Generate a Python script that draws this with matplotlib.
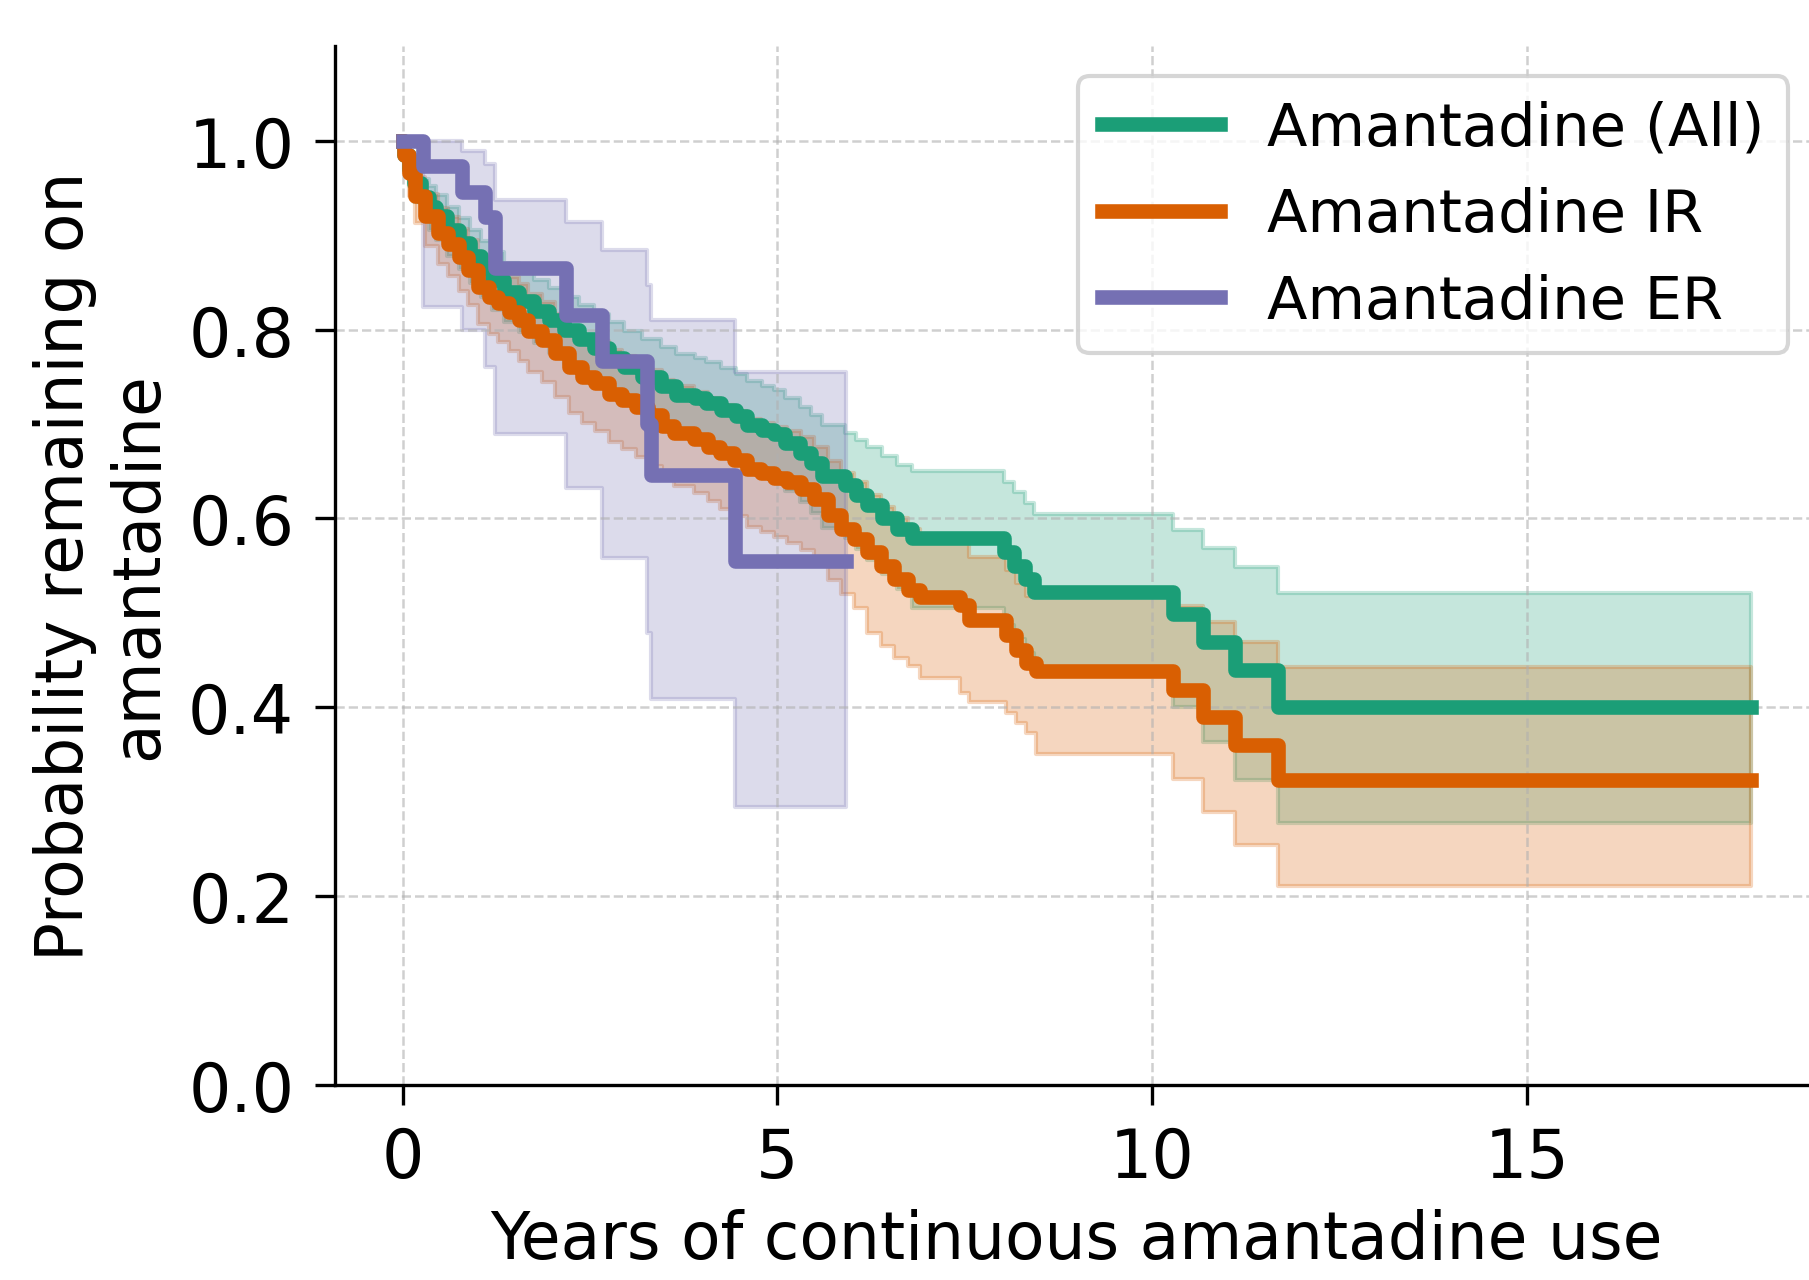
# Kaplan-Meier style curves of remaining on amantadine
import matplotlib.pyplot as plt
import numpy as np

# ---- data ----
t_all = [0.00, 0.02, 0.08, 0.15, 0.25, 0.35, 0.45, 0.60, 0.75, 0.90, 1.05, 1.20, 1.35, 1.55,
         1.75, 1.95, 2.15, 2.35, 2.55, 2.75, 2.95, 3.20, 3.45, 3.65, 3.90, 4.05, 4.25, 4.45,
         4.60, 4.80, 4.95, 5.10, 5.30, 5.45, 5.60, 5.90, 6.05, 6.20, 6.40, 6.60, 6.80, 8.02,
         8.15, 8.30, 8.42, 10.27, 10.68, 11.10, 11.68, 17.98]
s_all = [1.000, 0.985, 0.970, 0.955, 0.940, 0.930, 0.920, 0.905, 0.892, 0.878, 0.865, 0.852,
         0.840, 0.830, 0.820, 0.810, 0.800, 0.790, 0.780, 0.770, 0.760, 0.750, 0.740, 0.731,
         0.727, 0.722, 0.715, 0.708, 0.699, 0.694, 0.689, 0.680, 0.669, 0.659, 0.645, 0.635,
         0.625, 0.614, 0.600, 0.589, 0.579, 0.564, 0.550, 0.536, 0.522, 0.499, 0.469, 0.439,
         0.400, 0.400]
hi_all = [1.000, 0.995, 0.985, 0.973, 0.960, 0.952, 0.943, 0.930, 0.918, 0.906, 0.894, 0.882,
          0.871, 0.862, 0.853, 0.844, 0.835, 0.826, 0.817, 0.808, 0.799, 0.790, 0.782, 0.774,
          0.770, 0.766, 0.759, 0.753, 0.745, 0.740, 0.736, 0.728, 0.718, 0.709, 0.699, 0.690,
          0.683, 0.676, 0.666, 0.657, 0.650, 0.639, 0.628, 0.616, 0.605, 0.588, 0.569, 0.548,
          0.521, 0.521]
lo_all = [1.000, 0.970, 0.952, 0.935, 0.918, 0.906, 0.895, 0.878, 0.864, 0.849, 0.835, 0.821,
          0.808, 0.797, 0.786, 0.775, 0.764, 0.753, 0.742, 0.731, 0.720, 0.709, 0.697, 0.687,
          0.682, 0.676, 0.668, 0.660, 0.650, 0.645, 0.639, 0.629, 0.617, 0.606, 0.590, 0.579,
          0.568, 0.556, 0.541, 0.525, 0.505, 0.487, 0.472, 0.457, 0.440, 0.400, 0.363, 0.323,
          0.277, 0.277]

t_ir = [0.00, 0.02, 0.08, 0.17, 0.30, 0.48, 0.61, 0.75, 0.88, 1.01, 1.15, 1.28, 1.42, 1.55,
        1.68, 1.86, 2.04, 2.22, 2.39, 2.57, 2.75, 2.93, 3.11, 3.28, 3.46, 3.62, 3.89, 4.07,
        4.24, 4.42, 4.60, 4.78, 4.96, 5.13, 5.31, 5.49, 5.67, 5.85, 6.02, 6.20, 6.38, 6.56,
        6.74, 6.90, 7.44, 7.55, 8.05, 8.18, 8.32, 8.45, 10.27, 10.68, 11.10, 11.68, 17.98]
s_ir = [1.000, 0.985, 0.966, 0.941, 0.920, 0.902, 0.891, 0.877, 0.863, 0.845, 0.835, 0.828,
        0.819, 0.810, 0.799, 0.789, 0.775, 0.760, 0.750, 0.743, 0.732, 0.725, 0.718, 0.709,
        0.698, 0.690, 0.684, 0.676, 0.669, 0.662, 0.652, 0.648, 0.643, 0.638, 0.631, 0.620,
        0.603, 0.589, 0.578, 0.564, 0.550, 0.536, 0.524, 0.517, 0.508, 0.492, 0.476, 0.461,
        0.447, 0.438, 0.418, 0.389, 0.360, 0.323, 0.323]
hi_ir = [1.000, 0.995, 0.982, 0.962, 0.944, 0.929, 0.919, 0.907, 0.895, 0.879, 0.870, 0.864,
         0.856, 0.848, 0.838, 0.829, 0.817, 0.803, 0.794, 0.788, 0.778, 0.772, 0.765, 0.757,
         0.747, 0.740, 0.734, 0.727, 0.720, 0.714, 0.705, 0.701, 0.697, 0.692, 0.686, 0.676,
         0.661, 0.648, 0.638, 0.625, 0.612, 0.600, 0.589, 0.582, 0.574, 0.559, 0.545, 0.531,
         0.518, 0.525, 0.507, 0.490, 0.469, 0.442, 0.442]
lo_ir = [1.000, 0.965, 0.942, 0.913, 0.889, 0.869, 0.857, 0.841, 0.826, 0.806, 0.795, 0.787,
         0.777, 0.767, 0.755, 0.744, 0.729, 0.712, 0.701, 0.693, 0.681, 0.673, 0.665, 0.655,
         0.643, 0.634, 0.627, 0.618, 0.610, 0.602, 0.591, 0.586, 0.580, 0.574, 0.566, 0.554,
         0.535, 0.520, 0.505, 0.478, 0.465, 0.452, 0.444, 0.431, 0.415, 0.405, 0.394, 0.383,
         0.373, 0.350, 0.324, 0.289, 0.254, 0.210, 0.210]

t_er = [0.00, 0.27, 0.80, 1.10, 1.24, 2.18, 2.66, 3.26, 3.32, 4.44, 5.92]
s_er = [1.000, 0.973, 0.946, 0.919, 0.865, 0.815, 0.767, 0.700, 0.646, 0.555, 0.555]
hi_er = [1.000, 1.000, 0.989, 0.975, 0.937, 0.914, 0.884, 0.847, 0.810, 0.755, 0.755]
lo_er = [1.000, 0.824, 0.800, 0.760, 0.689, 0.632, 0.558, 0.479, 0.409, 0.294, 0.294]

series = [
    ("Amantadine (All)", t_all, s_all, lo_all, hi_all, "#1b9e77"),
    ("Amantadine IR", t_ir, s_ir, lo_ir, hi_ir, "#d95f02"),
    ("Amantadine ER", t_er, s_er, lo_er, hi_er, "#7570b3"),
]

plt.rcParams['font.family'] = ['DejaVu Sans']
fig = plt.figure(figsize=(6.03, 4.27), dpi=300)
ax = fig.add_axes([0.1852, 0.1525, 0.8198, 0.8105])

for label, t, s, lo, hi, c in series:
    ax.fill_between(t, lo, hi, step='post', color=c, alpha=0.25, linewidth=1)
    ax.step(t, s, where='post', color=c, lw=3.5, label=label)

ax.set_xlim(-0.9, 18.88)
ax.set_ylim(0, 1.1)
ax.set_xticks([0, 5, 10, 15])
ax.set_yticks([0.0, 0.2, 0.4, 0.6, 0.8, 1.0])
ax.tick_params(labelsize=16, length=4.8, width=0.8, pad=5)
ax.grid(True, linestyle='--', color='#b0b0b0', alpha=0.6, linewidth=0.6)
ax.spines['top'].set_visible(False)
ax.spines['right'].set_visible(False)

ax.set_xlabel("Years of continuous amantadine use", fontsize=15.5)
ax.set_ylabel("Probability remaining on\namantadine", fontsize=15.5)
ax.legend(loc='upper right', fontsize=14.2)

fig.savefig("out.png", dpi=300)
